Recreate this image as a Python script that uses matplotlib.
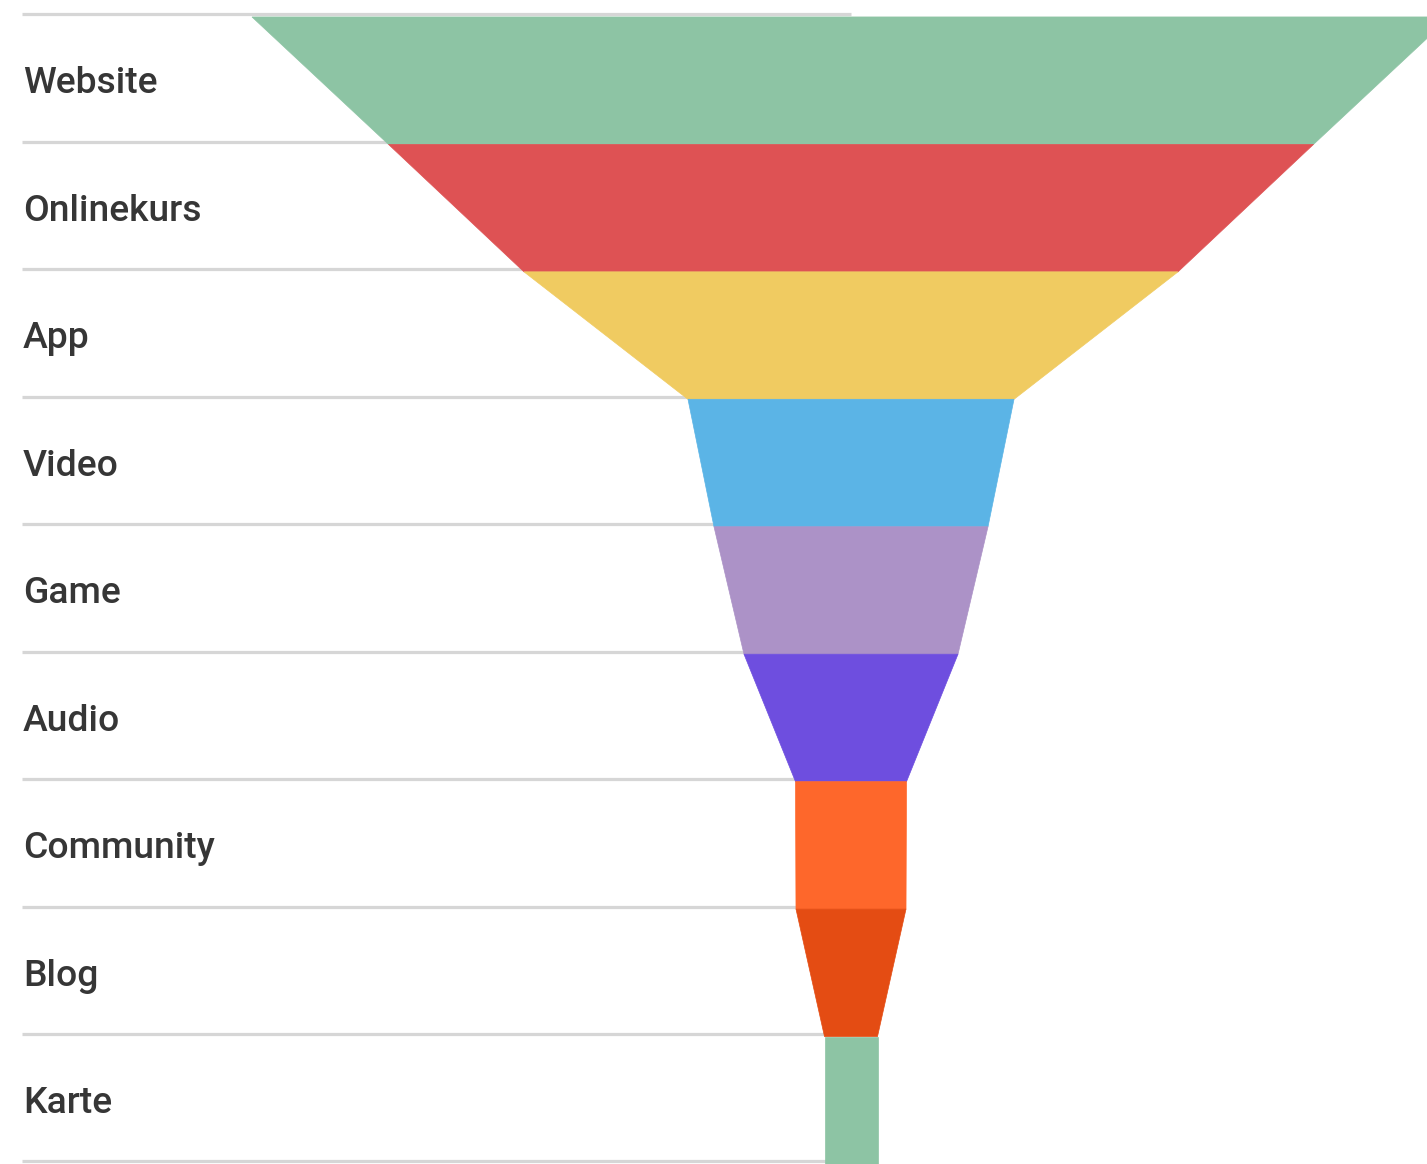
import matplotlib.pyplot as plt
from matplotlib.patches import Polygon

stages = ['Website', 'Onlinekurs', 'App', 'Video', 'Game', 'Audio', 'Community', 'Blog', 'Karte']
values = [1198, 925, 654, 326, 274, 214, 111, 110, 53]
colors = ['#8dc4a4', '#de5254', '#f0cb61', '#5bb4e6', '#ac92c7', '#6e4edf',
          '#fe672b', '#e44c13', '#8dc4a4']

fig = plt.figure(figsize=(14.27, 11.64), dpi=100)
ax = fig.add_axes([0, 0, 1, 1])
ax.set_xlim(-851, 576)
ax.set_ylim(9.0, -0.133)
ax.axis('off')

n = len(values)
for i in range(n):
    top = values[i] / 2
    bot = values[i + 1] / 2 if i + 1 < n else values[i] / 2
    poly = Polygon([(-top, i), (top, i), (bot, i + 1), (-bot, i + 1)],
                   closed=True, facecolor=colors[i], edgecolor=colors[i],
                   linewidth=0.5, zorder=3)
    ax.add_patch(poly)

# separator lines sit just above each stage boundary, under the funnel
for i in range(n + 1):
    ax.plot([-829, 0], [i - 0.02, i - 0.02], color='#d6d6d6', lw=2.3,
            solid_capstyle='butt', zorder=1)

for i, name in enumerate(stages):
    ax.text(-828, i + 0.6, name, fontsize=26.8, family='Roboto', weight='medium',
            color='#363636', ha='left', va='baseline', zorder=4)

fig.savefig('out.png', dpi=100, facecolor='white')
